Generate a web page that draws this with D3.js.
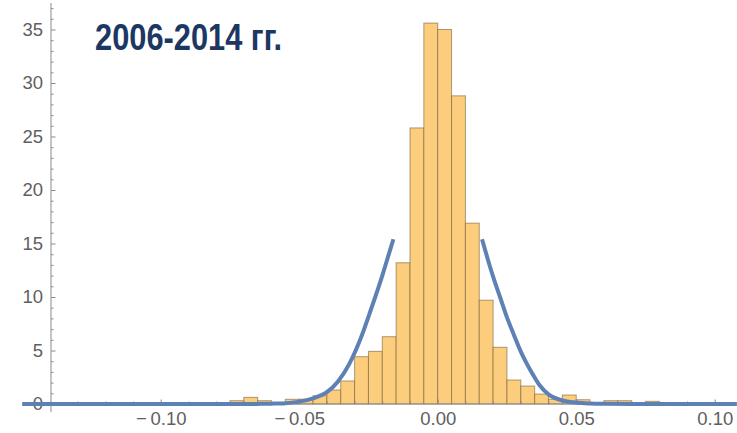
<!DOCTYPE html>
<html>
<head>
<meta charset="utf-8">
<script src="https://cdn.jsdelivr.net/npm/d3@7"></script>
<style>
  body { margin: 0; background: #fff; }
  svg { display: block; }
  .tick text { font-family: "Liberation Sans", Arial, sans-serif; font-size: 18.5px; fill: #606060; }
</style>
</head>
<body>
<svg width="737" height="433"></svg>
<script>
// histogram: lower edge of each 0.005 bin and its density
var binStarts = [-0.075, -0.070, -0.065, -0.060, -0.055, -0.050, -0.045, -0.040, -0.035, -0.030,
                 -0.025, -0.020, -0.015, -0.010, -0.005, 0.000, 0.005, 0.010, 0.015, 0.020,
                 0.025, 0.030, 0.035, 0.040, 0.045, 0.050, 0.055, 0.060, 0.065, 0.070, 0.075];
var binHeights = [0.31, 0.62, 0.31, 0.09, 0.44, 0.45, 0.78, 1.31, 2.15, 4.42,
                  4.92, 6.29, 13.2, 25.8, 35.6, 35.0, 28.8, 16.9, 9.7, 5.3,
                  2.24, 1.68, 0.93, 0.44, 0.84, 0.40, 0.12, 0.31, 0.31, 0.09, 0.25];
var binWidth = 0.005;

// fitted curve (two tail branches)
var leftX = [-0.150, -0.100, -0.080, -0.070, -0.065, -0.060, -0.055, -0.050, -0.045, -0.040,
             -0.036, -0.032, -0.028, -0.024, -0.020, -0.018, -0.016];
var leftY = [0, 0, 0, 0, 0.01, 0.03, 0.08, 0.22, 0.53, 1.1,
             2.1, 3.7, 6.0, 8.9, 12.0, 13.7, 15.4];
var rightX = [0.016, 0.018, 0.020, 0.0225, 0.025, 0.0273, 0.030, 0.0321, 0.0345, 0.0368,
              0.040, 0.045, 0.050, 0.055, 0.060, 0.070, 0.108];
var rightY = [15.4, 13.6, 11.9, 10.0, 8.1, 6.6, 4.9, 3.8, 2.7, 1.75,
              0.9, 0.33, 0.13, 0.05, 0.02, 0, 0];

var xTicks = [-0.10, -0.05, 0.00, 0.05, 0.10];
var xTickLabels = ["\u2212\u20090.10", "\u2212\u20090.05", "0.00", "0.05", "0.10"];
var yTicks = [0, 5, 10, 15, 20, 25, 30, 35];
var title = "2006-2014 гг.";

var svg = d3.select("svg");

var x = d3.scaleLinear().domain([-0.1, 0.1]).range([160.7, 714.7]);
var y = d3.scaleLinear().domain([0, 35]).range([404, 29.5]);

// bars
svg.append("g")
    .selectAll("rect")
    .data(binStarts)
    .enter()
    .append("rect")
    .attr("x", function(d) { return x(d); })
    .attr("width", function(d) { return x(d + binWidth) - x(d); })
    .attr("y", function(d, i) { return y(binHeights[i]); })
    .attr("height", function(d, i) { return y(0) - y(binHeights[i]); })
    .style("fill", "#fdcd7e")
    .style("stroke", "rgba(120,95,55,0.6)")
    .style("stroke-width", 1);

// y axis
var yMinor = d3.range(0, 38, 1).filter(function(d) { return d % 5 != 0; });
svg.append("g")
    .attr("transform", "translate(51,0)")
    .call(d3.axisLeft(y).tickValues(yMinor).tickSizeInner(-2.5).tickSizeOuter(0).tickFormat(""))
    .call(function(g) { g.select(".domain").remove(); })
    .selectAll("line").style("stroke", "#8c8c8c");

svg.append("g")
    .attr("transform", "translate(51,0)")
    .call(d3.axisLeft(y).tickValues(yTicks).tickSizeInner(-4.5).tickSizeOuter(0).tickPadding(8))
    .call(function(g) { g.select(".domain").remove(); })
    .selectAll("line").style("stroke", "#8c8c8c");

svg.append("line")
    .attr("x1", 51).attr("x2", 51)
    .attr("y1", 3).attr("y2", 412)
    .style("stroke", "#8c8c8c")
    .style("stroke-width", 1);

// x axis
var xMinor = d3.range(-14, 11, 1).map(function(d) { return d / 100; })
    .filter(function(d) { return Math.round(d * 100) % 5 != 0; });
svg.append("g")
    .attr("transform", "translate(0,404)")
    .call(d3.axisBottom(x).tickValues(xMinor).tickSizeInner(-2.5).tickSizeOuter(0).tickFormat(""))
    .call(function(g) { g.select(".domain").remove(); })
    .selectAll("line").style("stroke", "#8c8c8c");

svg.append("g")
    .attr("transform", "translate(0,404)")
    .call(d3.axisBottom(x).tickValues(xTicks).tickSizeInner(-4.5).tickSizeOuter(0).tickPadding(8)
        .tickFormat(function(d, i) { return xTickLabels[i]; }))
    .call(function(g) { g.select(".domain").remove(); })
    .selectAll("line").style("stroke", "#8c8c8c");

svg.append("line")
    .attr("x1", 51).attr("x2", 737)
    .attr("y1", 404).attr("y2", 404)
    .style("stroke", "#8c8c8c");

// curve
var line = d3.line()
    .x(function(d) { return x(d[0]); })
    .y(function(d) { return y(d[1]); })
    .curve(d3.curveMonotoneX);

[d3.zip(leftX, leftY), d3.zip(rightX, rightY)].forEach(function(pts) {
    svg.append("path")
        .datum(pts)
        .attr("d", line)
        .style("fill", "none")
        .style("stroke", "#5e81b5")
        .style("stroke-width", 4);
});

// title
svg.append("text")
    .attr("x", 95)
    .attr("y", 50)
    .attr("textLength", 187)
    .attr("lengthAdjust", "spacingAndGlyphs")
    .style("font-family", "'Liberation Sans Narrow', 'Liberation Sans', Arial, sans-serif")
    .style("font-weight", "bold")
    .style("font-size", "37px")
    .style("fill", "#1c3862")
    .text(title);
</script>
</body>
</html>
